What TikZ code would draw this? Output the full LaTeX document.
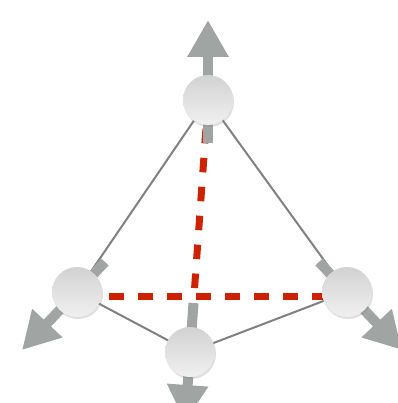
\documentclass[tikz,border=0pt]{standalone}
\usetikzlibrary{arrows.meta,shadows,calc}

\definecolor{axisgrey}{RGB}{160,165,164}
\definecolor{edgegrey}{RGB}{128,128,128}
\definecolor{dashred}{RGB}{204,34,0}
\definecolor{ballhi}{RGB}{210,210,210}
\definecolor{balllo}{RGB}{240,240,240}

\tikzset{
  atom/.style={circle, minimum size=50pt, inner sep=0pt,
    top color=ballhi, bottom color=balllo, draw=none,
    drop shadow={shadow xshift=1pt, shadow yshift=-2pt, opacity=0.25}},
  edge/.style={draw=edgegrey, line width=2pt},
  reddash/.style={draw=dashred, line width=7pt,
    dash pattern=on 14.5pt off 14.5pt},
  axisarrow/.style={draw=axisgrey, line width=10pt,
    -{Triangle[width=39pt,length=37pt]}, color=axisgrey},
}

\begin{document}
\begin{tikzpicture}[x=1pt,y=-1pt]
  \useasboundingbox (0,0) rectangle (397,403);

  % atom centres
  \coordinate (T) at (208,100);
  \coordinate (L) at (77,292);
  \coordinate (R) at (347,292);
  \coordinate (B) at (190,352);

  % arrow tails and tips
  \coordinate (Ttail) at (208,143);
  \coordinate (Ttip)  at (208,20);
  \coordinate (Ltail) at (105,262);
  \coordinate (Ltip)  at (22,350);
  \coordinate (Rtail) at (319,262);
  \coordinate (Rtip)  at (402,350);
  \coordinate (Btail) at (193.5,303);
  \coordinate (Btip)  at (185,422);

  % foot of the height on the base line
  \coordinate (F) at (194,296);

  % tetrahedron edges
  \draw[edge] (T) -- (L);
  \draw[edge] (T) -- (R);
  \draw[edge] (L) -- (B);
  \draw[edge] (B) -- (R);

  % dashed height and base line
  \draw[reddash] (T) -- (F);
  \draw[reddash, dash phase=26pt] ([yshift=-4pt]L) -- ([yshift=-4pt]R);

  % displacement arrows
  \draw[axisarrow] (Ttail) -- (Ttip);
  \draw[axisarrow] (Ltail) -- (Ltip);
  \draw[axisarrow] (Rtail) -- (Rtip);
  \draw[axisarrow] (Btail) -- (Btip);

  % atoms
  \node[atom] (top)    at (T) {};
  \node[atom] (left)   at (L) {};
  \node[atom] (right)  at (R) {};
  \node[atom] (bottom) at (B) {};
\end{tikzpicture}
\end{document}
